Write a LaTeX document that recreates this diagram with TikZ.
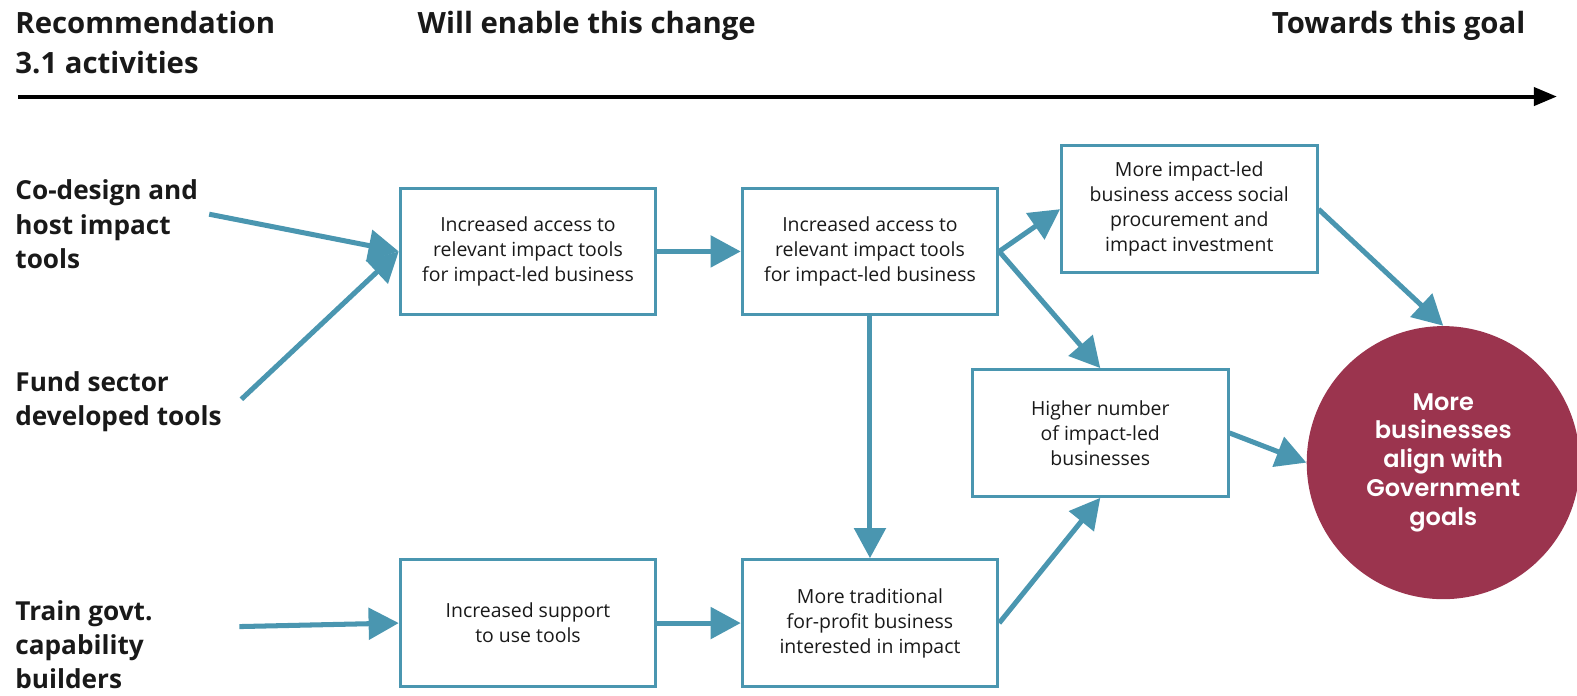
\documentclass[tikz,border=0pt]{standalone}
\usepackage{fontspec}
\setmainfont{Open Sans}
\IfFontExistsTF{Poppins SemiBold}
    {\newfontfamily\goalfont{Poppins}[BoldFont={Poppins SemiBold}]}
    {\newfontfamily\goalfont{Poppins}}
\usetikzlibrary{arrows.meta}
\definecolor{flowblue}{RGB}{74,150,176}
\definecolor{goalred}{RGB}{155,52,78}
\definecolor{inkgray}{RGB}{25,25,25}

\begin{document}
\begin{tikzpicture}[node distance=6.8cm, text=inkgray,
        box/.style={draw=flowblue, line width=0.06cm, minimum width=5.08cm, minimum height=2.52cm, inner sep=0pt, align=center, font=\fontsize{11}{14.2}\selectfont},
        flow/.style={-{Triangle[length=0.6cm, width=0.62cm]}, draw=flowblue, line width=0.1cm},
        head/.style={inner sep=0pt, align=left, font=\fontsize{16.6}{22.7}\selectfont\bfseries},
        act/.style={inner sep=0pt, align=left, anchor=west, font=\fontsize{14.8}{19.3}\selectfont\bfseries}]
        \useasboundingbox (0,0) rectangle (31.36,-13.84);

        % Column headings
        \node (HRec) [head, anchor=north west] at (0.3,-0.22) {Recommendation\\3.1 activities};
        \node (HChange) [head, anchor=north west] at (8.3,-0.22) {Will enable this change};
        \node (HGoal) [head, anchor=north east] at (30.34,-0.22) {Towards this goal};

        % Time line
        \coordinate (TL) at (0.36,-1.92);
        \coordinate (TR) at (30.96,-1.92);
        \draw[-{Triangle[length=0.46cm, width=0.36cm]}, line width=0.08cm] (TL) -- (TR);

        % Activities (left column)
        \node (Codesign) [act] at (0.3,-4.46) {Co-design and\\host impact\\tools};
        \node (Fund) [act] at (0.3,-7.98) {Fund sector\\developed tools};
        \node (Train) [act] at (0.3,-12.82) {Train govt.\\capability\\builders};

        % Changes
        \node (Acc1) [box] at (10.5,-5.0) {Increased access to\\relevant impact tools\\for impact-led business};
        \node (Acc2) [box, right of=Acc1] {Increased access to\\relevant impact tools\\for impact-led business};
        \node (Supp) [box, below of=Acc1, node distance=7.39cm] {Increased support\\to use tools};
        \node (Trad) [box, below of=Acc2, node distance=7.39cm] {More traditional\\for-profit business\\interested in impact};
        \node (Proc) [box] at (23.65,-4.16) {More impact-led\\business access social\\procurement and\\impact investment};
        \node (Higher) [box] at (21.88,-8.61) {Higher number\\of impact-led\\businesses};

        % Goal
        \node (Goal) [circle, fill=goalred, minimum size=5.43cm, inner sep=0pt, text=white, align=center,
            font=\goalfont\bfseries\fontsize{13.6}{16.3}\selectfont] at (28.7,-9.2) {More\\businesses\\align with\\Government\\goals};

        % Activity arrows
        \coordinate (CoStart) at (4.16,-4.26);
        \coordinate (FundStart) at (4.8,-7.94);
        \coordinate (TrainStart) at (4.76,-12.46);
        \draw[flow] (CoStart) -- (Acc1.west);
        \draw[flow] (FundStart) -- (Acc1.west);
        \draw[flow] (TrainStart) -- (Supp.west);

        % Change arrows
        \draw[flow] (Acc1.east) -- (Acc2.west);
        \draw[flow] (Acc2.east) -- (Proc.west);
        \draw[flow] (Acc2.east) -- (Higher.north);
        \draw[flow] (Acc2.south) -- (Trad.north);
        \draw[flow] (Supp.east) -- (Trad.west);
        \draw[flow] (Trad.east) -- (Higher.south);

        % Towards the goal
        \draw[flow] (Proc.east) -- (Goal.north);
        \draw[flow] (Higher.east) -- (Goal.west);
    \end{tikzpicture}
\end{document}
